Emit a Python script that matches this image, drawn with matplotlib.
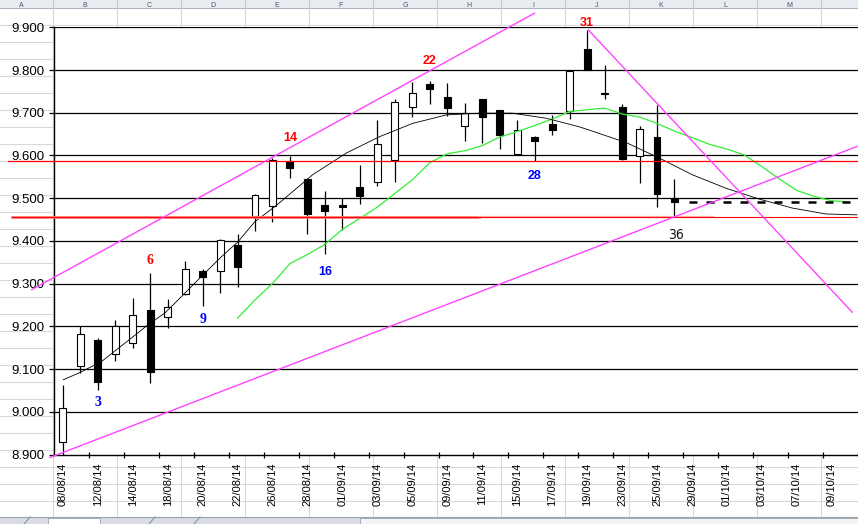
import numpy as np
import matplotlib
matplotlib.use("Agg")
import matplotlib.pyplot as plt
from matplotlib.patches import Rectangle

plt.rcParams['font.family'] = ['Liberation Sans', 'DejaVu Sans']

# trading days shown on the category axis
dates = ["08/08/14", "11/08/14", "12/08/14", "13/08/14", "14/08/14", "15/08/14",
         "18/08/14", "19/08/14", "20/08/14", "21/08/14", "22/08/14", "25/08/14",
         "26/08/14", "27/08/14", "28/08/14", "29/08/14", "01/09/14", "02/09/14",
         "03/09/14", "04/09/14", "05/09/14", "08/09/14", "09/09/14", "10/09/14",
         "11/09/14", "12/09/14", "15/09/14", "16/09/14", "17/09/14", "18/09/14",
         "19/09/14", "22/09/14", "23/09/14", "24/09/14", "25/09/14", "26/09/14",
         "29/09/14", "30/09/14", "01/10/14", "02/10/14", "03/10/14", "06/10/14",
         "07/10/14", "08/10/14", "09/10/14", "10/10/14"]

# OHLC for the 36 sessions
opens = [8.930, 9.108, 9.168, 9.136, 9.161, 9.239, 9.222, 9.276, 9.330, 9.330,
         9.391, 9.458, 9.482, 9.586, 9.544, 9.484, 9.484, 9.526, 9.539, 9.590,
         9.713, 9.767, 9.736, 9.670, 9.732, 9.707, 9.603, 9.643, 9.673, 9.704,
         9.849, 9.747, 9.714, 9.598, 9.643, 9.500]
highs = [9.062, 9.200, 9.173, 9.214, 9.267, 9.326, 9.263, 9.352, 9.335, 9.405,
         9.415, 9.510, 9.594, 9.599, 9.548, 9.517, 9.500, 9.578, 9.683, 9.732,
         9.773, 9.774, 9.769, 9.722, 9.732, 9.707, 9.682, 9.646, 9.695, 9.798,
         9.894, 9.812, 9.720, 9.668, 9.718, 9.544]
lows = [8.900, 9.091, 9.051, 9.119, 9.149, 9.068, 9.196, 9.274, 9.247, 9.278,
        9.292, 9.423, 9.445, 9.547, 9.416, 9.369, 9.426, 9.486, 9.528, 9.539,
        9.691, 9.720, 9.693, 9.635, 9.630, 9.616, 9.603, 9.587, 9.648, 9.685,
        9.799, 9.732, 9.589, 9.535, 9.480, 9.457]
closes = [9.009, 9.182, 9.070, 9.200, 9.227, 9.094, 9.246, 9.335, 9.315, 9.402,
          9.338, 9.508, 9.590, 9.570, 9.463, 9.469, 9.479, 9.506, 9.626, 9.725,
          9.746, 9.756, 9.710, 9.699, 9.689, 9.649, 9.660, 9.633, 9.660, 9.798,
          9.799, 9.745, 9.592, 9.662, 9.509, 9.490]

# moving average, starts at session 11 and runs on past the last candle
ma_start = 10
ma_vals = [9.219, 9.262, 9.300, 9.347, 9.368, 9.392, 9.427, 9.453, 9.479, 9.511,
           9.543, 9.583, 9.604, 9.611, 9.623, 9.643, 9.656, 9.670, 9.685, 9.703,
           9.707, 9.711, 9.697, 9.690, 9.675, 9.657, 9.642, 9.626, 9.615, 9.601,
           9.574, 9.545, 9.518, 9.504, 9.494, 9.491]

# polynomial trend curve
trend_x = [0.03, 0.99, 2.23, 3.94, 4.89, 5.84, 6.80, 7.94, 9.08, 10.03, 10.99,
           12.13, 13.84, 14.3, 16.24, 18.13, 20.01, 21.96, 23.84, 25.73, 27.67,
           29.56, 30.3, 32.24, 34.13, 36.01, 37.96, 39.84, 41.73, 43.67, 45.44]
trend_y = [9.075, 9.092, 9.118, 9.173, 9.204, 9.231, 9.270, 9.317, 9.363, 9.398,
           9.445, 9.480, 9.539, 9.555, 9.606, 9.644, 9.675, 9.695, 9.699, 9.699,
           9.687, 9.667, 9.657, 9.630, 9.594, 9.555, 9.523, 9.498, 9.477, 9.463,
           9.461]

# hand drawn lines (start, end) in category / price units
channel_up = ([-1.77, 26.99], [9.286, 9.933])
channel_low = ([-0.73, 45.44], [8.893, 9.621])
down_line = ([30.07, 45.17], [9.894, 9.233])
red_high = 9.587
red_low = 9.456
support = 9.491

# numbered session markers
mark_text = ["3", "6", "9", "14", "16", "22", "28", "31", "36"]
mark_x = [2, 5, 8, 13, 15, 21, 27, 30, 35.1]
mark_y = [9.021, 9.355, 9.215, 9.641, 9.328, 9.820, 9.551, 9.911, 9.414]
mark_color = ["blue", "red", "blue", "red", "blue", "red", "blue", "red", "#111111"]

W, H = 858, 524
fig = plt.figure(figsize=(W / 100, H / 100), dpi=100)

# spreadsheet behind the chart
bg = fig.add_axes([0, 0, 1, 1])
bg.set_xlim(0, W)
bg.set_ylim(H, 0)
bg.axis("off")
for y in range(25, 517, 17):
    bg.plot([0, W], [y, y], color="#d6dae0", lw=0.8)
for x in range(53, W, 64):
    bg.plot([x, x], [7.5, 517], color="#d6dae0", lw=0.8)
bg.add_patch(Rectangle((0, 0), W, 7.5, facecolor="#e9ecf0", edgecolor="none"))
bg.plot([0, W], [7.5, 7.5], color="#aab3bf", lw=0.8)
for i, col in enumerate("ABCDEFGHIJKLM"):
    cx = 21 + 64 * i
    bg.text(cx, 6.8, col, ha="center", va="baseline", fontsize=5, color="#4a5566")
for i in range(14):
    bg.plot([53 + 64 * i, 53 + 64 * i], [0, 7.5], color="#c3c9d1", lw=0.8)
bg.add_patch(Rectangle((0, 517), W, 7, facecolor="#d9dde2", edgecolor="none"))
bg.plot([0, W], [517, 517], color="#9aa3ae", lw=0.8)
bg.add_patch(Rectangle((48, 517.5), 52, 7, facecolor="#ffffff", edgecolor="#9aa3ae", lw=0.6))
for x in [27, 152, 197]:
    bg.plot([x - 3, x + 3], [524, 517], color="#8c96a3", lw=0.8)
bg.add_patch(Rectangle((360, 518), W - 360, 6, facecolor="#f2f3f5", edgecolor="#9aa3ae", lw=0.6))

# chart plot area
left, right = 54 / W, 1.0
top, bottom = 1 - 27.3 / H, 1 - 454.5 / H
ax = fig.add_axes([left, bottom, right - left, top - bottom], zorder=2)
ax.set_facecolor("white")
ax.set_xlim(-0.5, -0.5 + (W - 54) / 17.5)
ax.set_ylim(8.9, 9.9)

yt = np.round(np.arange(8.9, 9.95, 0.1), 1)
ax.set_yticks(yt)
ax.set_yticklabels([f"{v:.3f}" for v in yt], fontsize=9.5)
for v in yt[1:]:
    ax.axhline(v, color="black", lw=0.9, zorder=1)

cats = np.arange(len(dates))
ax.set_xticks(cats[::2])
ax.set_xticklabels(dates[::2], rotation=90, fontsize=8)
ax.set_xticks(np.arange(-0.5, cats[-1] + 1, 2)[1:], minor=True)
ax.tick_params(axis="x", which="major", length=0, pad=6)
ax.tick_params(axis="x", which="minor", direction="inout", length=4.5, width=0.9)
ax.tick_params(axis="y", direction="out", length=3.6, width=0.9, pad=3)
for s in ["top", "right"]:
    ax.spines[s].set_visible(False)
for s in ["left", "bottom"]:
    ax.spines[s].set_linewidth(1.0)

# candles
n = len(opens)
idx = np.arange(n)
o, h, l, c = map(np.array, (opens, highs, lows, closes))
ax.vlines(idx, l, h, color="black", lw=0.9, zorder=3)
body_lo = np.minimum(o, c)
body_h = np.abs(c - o)
colors = ["white" if cc >= oo else "black" for oo, cc in zip(o, c)]
ax.bar(idx, body_h, bottom=body_lo, width=0.4, color=colors,
       edgecolor="black", linewidth=0.8, zorder=4)

# indicator lines
ax.plot(np.arange(ma_start, ma_start + len(ma_vals)), ma_vals,
        color="#33ee33", lw=0.9, zorder=5, clip_on=False)
ax.plot(trend_x, trend_y, color="black", lw=0.6, zorder=5)
ax.plot([35.84, 45.44], [support, support], color="black", lw=1.8,
        linestyle=(0, (3.2, 3.6)), zorder=5)

xl = ax.get_xlim()[1]
ax.plot([-3.13, xl], [red_high, red_high], color="red", lw=0.9, zorder=6, clip_on=False)
ax.plot([-2.9, 23.8], [red_low, red_low], color="#ff8080", lw=2.0, zorder=6, clip_on=False)
ax.plot([23.8, 37.2], [red_low, red_low], color="#ffb0b0", lw=1.6, zorder=6)
ax.plot([-2.9, xl], [red_low, red_low], color="red", lw=0.8, zorder=6, clip_on=False)

for xs, ys in (channel_up, channel_low, down_line):
    ax.plot(xs, ys, color="#ff44ff", lw=1.0, zorder=6, clip_on=False)

for t, x, y, col in zip(mark_text, mark_x, mark_y, mark_color):
    if t == "36":
        ax.text(x, y, t, ha="center", va="center", fontsize=10, color=col,
                family=["DejaVu Sans"], fontstretch="condensed", zorder=7)
    elif len(t) == 1:
        ax.text(x, y, t, ha="center", va="center", fontsize=10, color=col,
                fontweight="bold", family=["Liberation Serif", "DejaVu Serif"], zorder=7)
    else:
        ax.text(x, y, t, ha="center", va="center", fontsize=9, color=col,
                fontweight="bold", zorder=7, clip_on=False)

fig.savefig("out.png", dpi=100)
